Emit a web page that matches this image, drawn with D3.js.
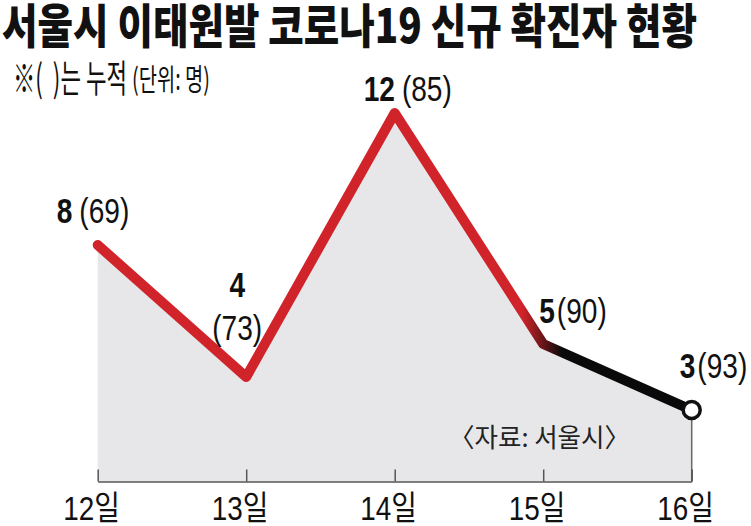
<!DOCTYPE html>
<html><head><meta charset="utf-8">
<script src="https://cdn.jsdelivr.net/npm/d3@7"></script>
<style>body{margin:0;background:#fff} svg{display:block} text{white-space:pre}</style>
</head><body><svg id="c" width="751" height="526"></svg>
<script>
// ---- data ----
const days = ["12일","13일","14일","15일","16일"];
const newCases = [8,4,12,5,3];
const cumulative = [69,73,85,90,93];
const titleText = "서울시 이태원발 코로나19 신규 확진자 현황";
const noteMain = "※(  )는 누적";
const noteUnit = "(단위: 명)";
const sourceText = "〈자료: 서울시〉";

const KR = "'Noto Sans CJK KR','Noto Sans',sans-serif";
const NUM = "'Liberation Sans','Noto Sans CJK KR',sans-serif";

const svg = d3.select("#c");
const x = d3.scalePoint().domain(days).range([97.7, 691.7]);
const y = d3.scaleLinear().domain([0, 12]).range([509, 113]);
const baseY = 481.5;
const pts = days.map((d,i)=>({d, v:newCases[i], c:cumulative[i]}));

// title
svg.append("text").attr("x",2).attr("y",43)
  .attr("font-family",KR).attr("font-weight",900).attr("font-size",47)
  .attr("fill","#111").attr("textLength",695).attr("lengthAdjust","spacingAndGlyphs")
  .text(titleText);
// subtitle
svg.append("text").attr("x",13).attr("y",92)
  .attr("font-family",KR).attr("font-size",38).attr("fill","#111")
  .attr("textLength",114).attr("lengthAdjust","spacingAndGlyphs").text(noteMain);
svg.append("text").attr("x",132).attr("y",90)
  .attr("font-family",KR).attr("font-size",30).attr("fill","#111")
  .attr("textLength",78).attr("lengthAdjust","spacingAndGlyphs").text(noteUnit);

// gradient
const defs = svg.append("defs");
const lg = defs.append("linearGradient").attr("id","lg")
  .attr("gradientUnits","userSpaceOnUse")
  .attr("x1",522).attr("x2",562).attr("y1",0).attr("y2",0);
lg.append("stop").attr("offset","0%").attr("stop-color","#d1232a");
lg.append("stop").attr("offset","100%").attr("stop-color","#0a0a0a");

// area
const area = d3.area().x(p=>x(p.d)).y0(baseY).y1(p=>y(p.v));
svg.append("path").datum(pts).attr("d",area).attr("fill","#e7e7e9");
const last = pts[pts.length-1];
svg.append("line").attr("x1",x(last.d)).attr("x2",x(last.d))
  .attr("y1",y(last.v)).attr("y2",baseY).attr("stroke","#666").attr("stroke-width",1.5);

// axis
const axis = d3.axisBottom(x).tickSizeInner(-12).tickSizeOuter(0).tickPadding(14);
const gx = svg.append("g").attr("transform",`translate(0,${baseY})`).call(axis);
gx.attr("font-size",null).attr("font-family",null);
gx.select(".domain").attr("stroke","#555").attr("stroke-width",1.5);
gx.selectAll(".tick line").attr("stroke","#555").attr("stroke-width",1.5);
gx.selectAll(".tick text").attr("font-size",34).attr("font-family",NUM)
  .attr("fill","#111").attr("transform","scale(0.82,1)").attr("dx",-8);

// source
svg.append("text").attr("x",449).attr("y",447)
  .attr("font-family",KR).attr("font-size",26).attr("fill","#222")
  .attr("textLength",181).attr("lengthAdjust","spacingAndGlyphs").text(sourceText);

// line
const line = d3.line().x(p=>x(p.d)).y(p=>y(p.v));
svg.append("path").datum(pts).attr("d",line).attr("fill","none")
  .attr("stroke","url(#lg)").attr("stroke-width",10)
  .attr("stroke-linejoin","round").attr("stroke-linecap","round");
svg.append("circle").attr("cx",x(last.d)).attr("cy",y(last.v)).attr("r",8.5)
  .attr("fill","#fff").attr("stroke","#111").attr("stroke-width",3.5);

// labels
const SX = 0.78, FS = 36;
function ctext(str, tx, ty, weight, anchor){
  const t = svg.append("text").attr("transform",`translate(${tx},${ty}) scale(${SX},1)`)
    .attr("font-family",NUM).attr("font-size",FS).attr("font-weight",weight)
    .attr("fill","#111").attr("text-anchor",anchor||"start").text(str);
  return t.node().getComputedTextLength()*SX;
}
const place = [
  {dx:-41, dy:-22, gap:7},
  {stack:true, dx:-9, dy1:-80, dy2:-37},
  {dx:-31, dy:-12, gap:7},
  {dx:-4, dy:-21, gap:2},
  {dx:-12, dy:-32, gap:2}
];
pts.forEach((p,i)=>{
  const px = x(p.d), py = y(p.v), L = place[i];
  if (L.stack){
    ctext(String(p.v), px+L.dx, py+L.dy1, 700, "middle");
    ctext(`(${p.c})`, px+L.dx, py+L.dy2, 400, "middle");
  } else {
    const w = ctext(String(p.v), px+L.dx, py+L.dy, 700);
    ctext(`(${p.c})`, px+L.dx+w+L.gap, py+L.dy, 400);
  }
});
</script></body></html>
